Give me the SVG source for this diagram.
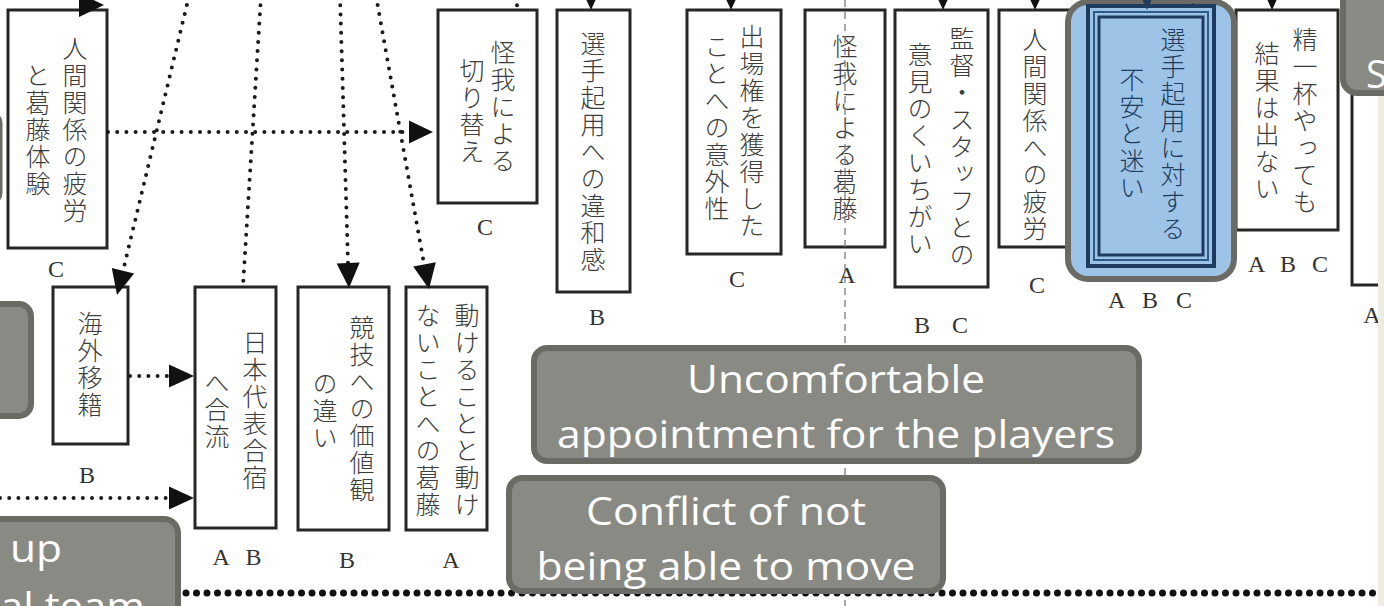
<svg xmlns="http://www.w3.org/2000/svg" width="1384" height="606" viewBox="0 0 1384 606">
<style>
.bx{fill:#fff;stroke:#262626;stroke-width:3}
.v{writing-mode:vertical-rl;font-family:"Noto Sans CJK JP","Noto Sans CJK SC",sans-serif;font-size:25px;font-weight:300;letter-spacing:2px;fill:#3d3d3d}
.vn{fill:#1f3b5c}
.lb{font-family:"Liberation Serif",serif;font-size:24px;fill:#333;text-anchor:middle}
.dot{fill:none;stroke:#1a1a1a;stroke-width:4;stroke-dasharray:0 9.2;stroke-linecap:round}
.ah{fill:#111}
.gb{fill:#8a8a85;stroke:#6b6b65;stroke-width:6}
.gt{font-family:"Open Sans",sans-serif;font-size:38px;fill:#fff;text-anchor:middle}
</style>
<rect width="1384" height="606" fill="#fff"/>

<!-- top-row nodes -->
<g id="n-jinken-katto">
<rect class="bx" x="8" y="10" width="99" height="238"/>
<text class="v" x="75" y="36">人間関係の疲労</text>
<text class="v" x="38" y="63">と葛藤体験</text>
<text class="lb" x="56" y="277">C</text>
</g>
<g id="n-kega-kirikae">
<rect class="bx" x="438" y="10" width="99" height="193"/>
<text class="v" x="503" y="40">怪我による</text>
<text class="v" x="472" y="58">切り替え</text>
<text class="lb" x="485" y="235">C</text>
</g>
<g id="n-iwakan">
<rect class="bx" x="557" y="10" width="73" height="282"/>
<text class="v" x="593" y="31">選手起用への違和感</text>
<text class="lb" x="597" y="325">B</text>
</g>
<g id="n-igaisei">
<rect class="bx" x="687" y="10" width="94" height="244"/>
<text class="v" x="752" y="24">出場権を獲得した</text>
<text class="v" x="717" y="34">ことへの意外性</text>
<text class="lb" x="737" y="287">C</text>
</g>
<g id="n-kega-katto">
<rect class="bx" x="805" y="10" width="80" height="237"/>
<text class="v" x="845" y="34">怪我による葛藤</text>
<text class="lb" x="847" y="283">A</text>
</g>
<g id="n-kantoku">
<rect class="bx" x="895" y="10" width="93" height="277"/>
<text class="v" x="962" y="26">監督・スタッフとの</text>
<text class="v" x="920" y="42">意見のくいちがい</text>
<text class="lb" x="941" y="333" textLength="54">B C</text>
</g>
<g id="n-jinken-hiro">
<rect class="bx" x="999" y="10" width="76" height="237"/>
<text class="v" x="1035" y="27">人間関係への疲労</text>
<text class="lb" x="1037" y="293">C</text>
</g>
<g id="n-seiippai">
<rect class="bx" x="1236" y="10" width="102" height="220"/>
<text class="v" x="1305" y="27">精一杯やっても</text>
<text class="v" x="1267" y="41">結果は出ない</text>
<text class="lb" x="1288" y="272" textLength="80">A B C</text>
</g>
<g id="n-right">
<rect class="bx" x="1352" y="80" width="70" height="205"/>
<text class="lb" x="1372" y="323">A</text>
</g>

<!-- highlighted node -->
<g id="n-fuan">
<rect x="1068" y="2" width="166" height="277" rx="20" fill="#9dc4e7" stroke="#6b6a64" stroke-width="6"/>
<rect x="1088" y="6" width="126" height="260" fill="none" stroke="#1d3c5e" stroke-width="4"/>
<rect x="1094" y="12" width="114" height="248" fill="none" stroke="#2f5b87" stroke-width="2"/>
<rect x="1099" y="17" width="104" height="238" fill="none" stroke="#1d3c5e" stroke-width="3"/>
<text class="v vn" x="1173" y="27">選手起用に対する</text>
<text class="v vn" x="1132" y="67">不安と迷い</text>
<text class="lb" x="1150" y="308" textLength="84">A B C</text>
</g>

<!-- bottom-row nodes -->
<g id="n-kaigai">
<rect class="bx" x="53" y="287" width="75" height="157"/>
<text class="v" x="90" y="311">海外移籍</text>
<text class="lb" x="87" y="483">B</text>
</g>
<g id="n-gassyuku">
<rect class="bx" x="195" y="287" width="81" height="241"/>
<text class="v" x="255" y="330">日本代表合宿</text>
<text class="v" x="217" y="370">へ合流</text>
<text class="lb" x="237" y="565" textLength="49">A B</text>
</g>
<g id="n-kachikan">
<rect class="bx" x="298" y="287" width="91" height="243"/>
<text class="v" x="362" y="315">競技への価値観</text>
<text class="v" x="325" y="371">の違い</text>
<text class="lb" x="347" y="568">B</text>
</g>
<g id="n-ugoke">
<rect class="bx" x="406" y="287" width="81" height="243"/>
<text class="v" x="467" y="303">動けることと動け</text>
<text class="v" x="428" y="303">ないことへの葛藤</text>
<text class="lb" x="451" y="568">A</text>
</g>

<!-- divider lines -->
<g id="dividers">
<line x1="845" y1="0" x2="845" y2="606" stroke="#7a7a7a" stroke-width="1.3" stroke-dasharray="7 5"/>
<line x1="186" y1="593" x2="1378" y2="593" stroke="#111" stroke-width="7" stroke-dasharray="0 10.5" stroke-linecap="round"/>
</g>

<!-- connectors -->
<g id="connectors">
<path class="dot" d="M108 132H409"/>
<path class="dot" d="M130 376H169"/>
<path class="dot" d="M0 498H169"/>
<path class="dot" d="M189 -4L123 271"/>
<path class="dot" d="M261 -4L243 286"/>
<path class="dot" d="M340 -4L348 263"/>
<path class="dot" d="M376 -4L424 264"/>
<path class="dot" d="M517 -4V9"/>
<path class="dot" d="M1193 -4V8" style="stroke:#1d3c5e"/>
<polygon class="ah" points="433,132 409,120.5 409,143.5"/>
<polygon class="ah" points="194,376 169,364.5 169,387.5"/>
<polygon class="ah" points="194,498 169,486.5 169,509.5"/>
<polygon class="ah" points="117,295 134.1,273.4 111.8,268"/>
<polygon class="ah" points="349,288 359.7,262.6 336.7,263.4"/>
<polygon class="ah" points="429,289 435.8,262.3 413.2,266.5"/>
<polygon class="ah" points="104,5 79,-7 79,17"/>
<polygon class="ah" points="591,10 580,-14 602,-14"/>
<polygon class="ah" points="731,10 720,-14 742,-14"/>
<polygon class="ah" points="943,10 932,-14 954,-14"/>
<polygon class="ah" points="1035,10 1024,-14 1046,-14"/>
<polygon class="ah" points="1147,10 1136,-14 1158,-14" style="fill:#1d3c5e"/>
<polygon class="ah" points="1272,10 1261,-14 1283,-14"/>
</g>

<!-- page edge strip -->
<rect x="1378" y="95" width="6" height="511" fill="#eeebe3"/>

<!-- grey label boxes -->
<g id="lbl-edge-top">
<rect class="gb" x="-40" y="113" width="41" height="90" rx="10" style="stroke-width:3"/>
</g>
<g id="lbl-left-mid">
<rect class="gb" x="-20" y="304" width="51" height="112" rx="12"/>
</g>
<g id="lbl-left-bottom">
<rect class="gb" x="-20" y="519" width="198" height="120" rx="14"/>
<text class="gt" x="10" y="562" style="text-anchor:start" textLength="52" lengthAdjust="spacingAndGlyphs">up</text>
<text class="gt" x="0" y="620" style="text-anchor:start" textLength="145" lengthAdjust="spacingAndGlyphs">al team</text>
</g>
<g id="lbl-uncomfortable">
<rect class="gb" x="534" y="348" width="605" height="113" rx="13"/>
<text class="gt" x="836" y="393" textLength="298" lengthAdjust="spacingAndGlyphs">Uncomfortable</text>
<text class="gt" x="836" y="448" textLength="558" lengthAdjust="spacingAndGlyphs">appointment for the players</text>
</g>
<g id="lbl-conflict">
<rect class="gb" x="509" y="478" width="434" height="113" rx="13"/>
<text class="gt" x="726" y="525" textLength="280" lengthAdjust="spacingAndGlyphs">Conflict of not</text>
<text class="gt" x="726" y="580" textLength="379" lengthAdjust="spacingAndGlyphs">being able to move</text>
</g>
<g id="lbl-top-right">
<rect class="gb" x="1343" y="-30" width="80" height="123" rx="14"/>
<text class="gt" x="1366" y="88" style="text-anchor:start">S</text>
</g>
</svg>
